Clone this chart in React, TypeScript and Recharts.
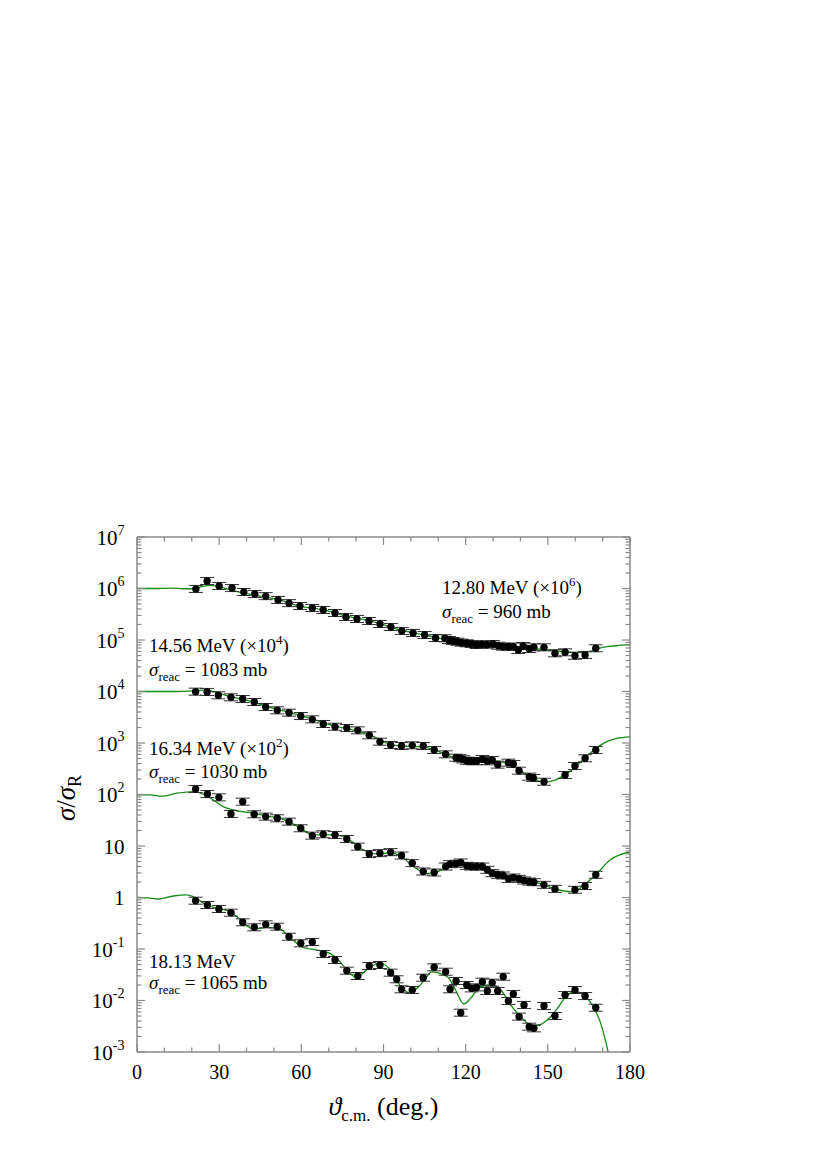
import React from 'react';
import { ComposedChart, Line, Scatter, XAxis, YAxis, ErrorBar } from 'recharts';

// ---- measured data: sigma / sigma_Rutherford vs theta c.m. (unscaled) ----
const ang1280 = [21.5, 25.6, 30.0, 34.7, 39.0, 43.0, 47.0, 51.5, 55.5, 59.5, 64.0, 68.0, 72.3, 76.3, 80.3, 84.7, 88.7, 92.7, 96.7, 100.8, 105.0, 109.0, 112.4, 113.9, 115.3, 117.0, 118.5, 120.4, 122.2, 124.0, 125.8, 127.7, 129.9, 131.9, 133.7, 135.6, 137.4, 139.2, 141.0, 143.2, 144.9, 148.6, 152.6, 156.3, 159.9, 163.6, 167.5];
const val1280 = [0.98, 1.40, 1.12, 1.02, 0.855, 0.78, 0.71, 0.60, 0.52, 0.457, 0.418, 0.383, 0.334, 0.28, 0.256, 0.234, 0.205, 0.179, 0.150, 0.137, 0.125, 0.109, 0.108, 0.100, 0.0955, 0.0927, 0.0887, 0.0863, 0.0836, 0.080, 0.0826, 0.0811, 0.0836, 0.0774, 0.0741, 0.0741, 0.0741, 0.064, 0.0764, 0.0668, 0.0721, 0.072, 0.0552, 0.0577, 0.0495, 0.0512, 0.069];

const ang1456 = [21.4, 25.6, 29.7, 34.3, 38.6, 42.8, 47.0, 51.2, 55.5, 59.8, 64.0, 68.0, 72.3, 76.6, 80.6, 84.8, 88.7, 92.6, 96.6, 100.5, 104.5, 108.5, 112.7, 116.5, 117.9, 119.1, 120.4, 121.6, 122.8, 124.0, 126.1, 127.9, 129.7, 131.7, 135.6, 137.4, 139.5, 143.2, 144.7, 148.6, 156.3, 159.9, 163.6, 167.5];
const val1456 = [0.993, 0.98, 0.843, 0.771, 0.714, 0.625, 0.50, 0.431, 0.388, 0.334, 0.288, 0.234, 0.207, 0.195, 0.176, 0.141, 0.106, 0.0914, 0.0874, 0.0901, 0.0874, 0.0731, 0.0603, 0.0519, 0.0505, 0.0482, 0.0453, 0.0447, 0.0441, 0.0447, 0.0489, 0.0441, 0.0468, 0.038, 0.0415, 0.0391, 0.029, 0.0222, 0.0209, 0.0177, 0.0239, 0.0357, 0.0505, 0.0731];

const ang1634 = [21.4, 25.7, 29.9, 34.3, 38.6, 42.8, 47.0, 51.2, 55.5, 59.8, 64.0, 68.0, 72.3, 76.6, 80.6, 84.8, 88.7, 92.6, 96.6, 100.5, 104.5, 108.5, 112.7, 114.3, 116.5, 118.2, 120.4, 122.0, 124.0, 126.1, 127.9, 129.7, 131.7, 133.7, 135.6, 137.4, 139.5, 141.3, 143.2, 144.9, 148.6, 152.6, 159.9, 163.6, 167.5];
const val1634 = [1.28, 1.02, 0.88, 0.419, 0.726, 0.413, 0.372, 0.345, 0.297, 0.221, 0.159, 0.169, 0.164, 0.137, 0.097, 0.070, 0.0727, 0.076, 0.0653, 0.0465, 0.032, 0.0306, 0.040, 0.0444, 0.0451, 0.0478, 0.0412, 0.040, 0.040, 0.040, 0.0345, 0.0297, 0.0276, 0.0267, 0.023, 0.0244, 0.023, 0.0214, 0.0204, 0.0198, 0.0176, 0.0147, 0.0141, 0.0167, 0.0276];

const ang1813 = [21.4, 25.7, 29.9, 34.3, 38.6, 42.8, 47.0, 51.2, 55.5, 59.8, 64.0, 68.0, 72.3, 76.6, 80.6, 84.8, 88.7, 92.6, 94.8, 96.6, 100.5, 104.5, 108.5, 112.7, 114.3, 116.5, 118.2, 120.4, 122.2, 124.0, 126.1, 127.9, 129.7, 131.7, 133.7, 135.6, 137.4, 139.5, 141.3, 143.2, 144.9, 148.6, 152.6, 156.3, 159.9, 163.6, 167.5];
const val1813 = [0.867, 0.715, 0.598, 0.507, 0.33, 0.264, 0.301, 0.271, 0.173, 0.129, 0.137, 0.080, 0.0611, 0.0379, 0.0299, 0.0468, 0.0489, 0.0347, 0.0258, 0.0165, 0.016, 0.0277, 0.0441, 0.0362, 0.0165, 0.0239, 0.0058, 0.020, 0.0172, 0.018, 0.0232, 0.0153, 0.0222, 0.0153, 0.029, 0.0098, 0.0134, 0.00486, 0.0082, 0.0031, 0.00288, 0.0078, 0.005, 0.0128, 0.016, 0.0122, 0.00724];

// ---- optical model curves (unscaled) ----
const cAng1280 = [0, 6, 12, 17, 21, 24, 27, 30, 35, 42.4, 51, 59.5, 68, 76.7, 87.6, 95, 105, 115, 125, 135, 142, 150, 155, 160, 165, 170, 175, 180];
const cVal1280 = [1.0, 1.0, 1.02, 0.99, 1.0, 1.1, 1.15, 1.08, 0.91, 0.75, 0.62, 0.457, 0.383, 0.29, 0.218, 0.162, 0.125, 0.097, 0.082, 0.075, 0.07, 0.064, 0.06, 0.0566, 0.0595, 0.072, 0.0774, 0.081];

const cAng1456 = [0, 8, 15, 20, 24, 28, 33, 40, 47, 55, 64, 72, 80, 85, 88.7, 92.6, 97.2, 103.3, 108.2, 113.1, 117.9, 124, 130.1, 135, 138.6, 142.3, 145.9, 148.3, 152.6, 158, 165.4, 170.3, 175.1, 180];
const cVal1456 = [1.0, 1.0, 1.0, 1.03, 1.06, 1.0, 0.82, 0.68, 0.52, 0.40, 0.29, 0.215, 0.172, 0.147, 0.114, 0.0944, 0.0875, 0.085, 0.0755, 0.0585, 0.0482, 0.0447, 0.0447, 0.0404, 0.0323, 0.0239, 0.0191, 0.0173, 0.0191, 0.0278, 0.063, 0.0986, 0.123, 0.132];

const cAng1634 = [0, 5, 9, 14.6, 20.6, 24.2, 27.9, 31.5, 35.2, 41.3, 47.3, 53.4, 59.5, 64.4, 71.7, 76.6, 82.6, 87.5, 92.4, 96.6, 100.9, 105.8, 109.4, 114.3, 119.1, 124, 128.9, 133.7, 141, 147.1, 153.2, 159.5, 163.2, 167.5, 172.7, 180];
const cVal1634 = [0.98, 0.98, 0.93, 1.06, 1.14, 1.02, 0.78, 0.58, 0.50, 0.443, 0.383, 0.33, 0.227, 0.164, 0.164, 0.141, 0.0836, 0.070, 0.074, 0.062, 0.040, 0.0295, 0.0316, 0.0408, 0.0447, 0.0398, 0.0316, 0.0253, 0.0218, 0.0187, 0.0143, 0.0129, 0.0175, 0.0276, 0.0535, 0.0765];

const cAng1813 = [0, 4, 7.8, 13.3, 18.1, 21.2, 25.4, 29.7, 34, 37.6, 42.5, 47.3, 52.2, 56.5, 60.7, 65.6, 70.5, 74, 76.6, 80.1, 84, 88.7, 92.6, 96.2, 99.7, 102.3, 105.4, 107.5, 113.3, 116.3, 119.3, 121.8, 125.4, 129.7, 133.4, 136.4, 140.1, 143.7, 146.2, 149.8, 153.5, 157.1, 160.2, 163.2, 166.2, 169.3, 172, 173.5];
const cVal1813 = [1.0, 0.98, 0.935, 1.07, 1.12, 1.0, 0.71, 0.61, 0.53, 0.38, 0.243, 0.262, 0.243, 0.156, 0.107, 0.0955, 0.082, 0.057, 0.039, 0.028, 0.040, 0.054, 0.039, 0.019, 0.0141, 0.0173, 0.027, 0.036, 0.029, 0.016, 0.00855, 0.011, 0.0186, 0.020, 0.0148, 0.0082, 0.00486, 0.00334, 0.00324, 0.00418, 0.00705, 0.0128, 0.0148, 0.0128, 0.0082, 0.0036, 0.00101, 0.0004];

const energies = ['12.80', '14.56', '16.34', '18.13'];
const scaleExp = [6, 4, 2, 0];
const sigmaReac = [960, 1083, 1030, 1065];

const xTicks = [0, 10, 20, 30, 40, 50, 60, 70, 80, 90, 100, 110, 120, 130, 140, 150, 160, 170, 180];
const decades = [-3, -2, -1, 0, 1, 2, 3, 4, 5, 6];
const yTicks: number[] = [];
decades.forEach((n) => {
  for (let k = 1; k <= 9; k++) yTicks.push(k * Math.pow(10, n));
});
yTicks.push(1e7);

const relErr = 0.17;

const makePoints = (a: number[], v: number[], e: number) =>
  a.map((x, i) => {
    const y = v[i] * Math.pow(10, e);
    return { x, y, err: [y - y / (1 + relErr), y * relErr] };
  });
const makeCurve = (a: number[], v: number[], e: number) =>
  a.map((x, i) => ({ x, y: v[i] * Math.pow(10, e) }));

const points = [
  makePoints(ang1280, val1280, scaleExp[0]),
  makePoints(ang1456, val1456, scaleExp[1]),
  makePoints(ang1634, val1634, scaleExp[2]),
  makePoints(ang1813, val1813, scaleExp[3]),
];
const curves = [
  makeCurve(cAng1280, cVal1280, scaleExp[0]),
  makeCurve(cAng1456, cVal1456, scaleExp[1]),
  makeCurve(cAng1634, cVal1634, scaleExp[2]),
  makeCurve(cAng1813, cVal1813, scaleExp[3]),
];

// layout (svg coordinates)
const W = 798;
const H = 1134;
const PL = 129;
const PT = 529;
const PW = 493;
const PH = 515;
const PR = PL + PW;
const PB = PT + PH;
const frame = '#8a8a8a';
const green = '#168a16';
const serif = '"Liberation Serif", "Times New Roman", serif';

const logMajor = (v: number) => {
  const l = Math.log10(v);
  return Math.abs(l - Math.round(l)) < 1e-6;
};

const BottomTick = (props: any) => {
  const { x, payload } = props;
  const v = payload.value;
  const major = v % 30 === 0;
  return (
    <g>
      <line x1={x} x2={x} y1={PB} y2={PB - (major ? 8 : 4.5)} stroke={frame} strokeWidth={1.2} />
      {major && (
        <text x={x} y={PB + 27} textAnchor="middle" fontSize={20} fontFamily={serif} fill="#000">
          {v}
        </text>
      )}
    </g>
  );
};

const TopTick = (props: any) => {
  const { x, payload } = props;
  const major = payload.value % 30 === 0;
  return <line x1={x} x2={x} y1={PT} y2={PT + (major ? 8 : 4.5)} stroke={frame} strokeWidth={1.2} />;
};

const LeftTick = (props: any) => {
  const { y, payload } = props;
  const v = payload.value;
  const major = logMajor(v);
  const n = Math.round(Math.log10(v));
  let label: React.ReactNode = null;
  if (major) {
    if (n === 0 || n === 1) {
      label = (
        <text x={PL - 12.5} y={y + 7.5} textAnchor="end" fontSize={21} fontFamily={serif} fill="#000">
          {n === 0 ? '1' : '10'}
        </text>
      );
    } else {
      label = (
        <text x={PL - 12.5} y={y + 7.5} textAnchor="end" fontSize={21} fontFamily={serif} fill="#000">
          10
          <tspan dy={-10} fontSize={14}>
            {n}
          </tspan>
        </text>
      );
    }
  }
  return (
    <g>
      <line x1={PL} x2={PL + (major ? 8 : 4.5)} y1={y} y2={y} stroke={frame} strokeWidth={1.2} />
      {label}
    </g>
  );
};

const RightTick = (props: any) => {
  const { y, payload } = props;
  const major = logMajor(payload.value);
  return <line x1={PR} x2={PR - (major ? 8 : 4.5)} y1={y} y2={y} stroke={frame} strokeWidth={1.2} />;
};

const Dot = (props: any) => {
  const { cx, cy } = props;
  if (cx == null || cy == null) return <g />;
  return <circle cx={cx} cy={cy} r={3.7} fill="#000" />;
};

// annotation positions
const annoX = [434, 141, 141, 141];
const annoY1 = [586, 644, 747, 960];
const annoY2 = [610, 668, 770, 981];

export default function App() {
  return (
    <div style={{ position: 'relative', width: W, height: H }}>
      <ComposedChart
        width={W}
        height={H}
        margin={{ top: PT - 1, left: PL - 1, right: W - PR - 1, bottom: H - PB - 1 }}
      >
        <XAxis
          xAxisId="b"
          dataKey="x"
          type="number"
          domain={[0, 180]}
          ticks={xTicks}
          interval={0}
          height={1}
          tickSize={0}
          tickMargin={0}
          tickLine={false}
          tick={<BottomTick />}
          axisLine={{ stroke: frame, strokeWidth: 1.5 }}
          allowDataOverflow
        />
        <XAxis
          xAxisId="t"
          orientation="top"
          dataKey="x"
          type="number"
          domain={[0, 180]}
          ticks={xTicks}
          interval={0}
          height={1}
          tickSize={0}
          tickMargin={0}
          tickLine={false}
          tick={<TopTick />}
          axisLine={{ stroke: frame, strokeWidth: 1.5 }}
          allowDataOverflow
        />
        <YAxis
          yAxisId="l"
          dataKey="y"
          scale="log"
          type="number"
          domain={[1e-3, 1e7]}
          ticks={yTicks}
          interval={0}
          width={1}
          tickSize={0}
          tickMargin={0}
          tickLine={false}
          tick={<LeftTick />}
          axisLine={{ stroke: frame, strokeWidth: 1.5 }}
          allowDataOverflow
        />
        <YAxis
          yAxisId="r"
          orientation="right"
          dataKey="y"
          scale="log"
          type="number"
          domain={[1e-3, 1e7]}
          ticks={yTicks}
          interval={0}
          width={1}
          tickSize={0}
          tickMargin={0}
          tickLine={false}
          tick={<RightTick />}
          axisLine={{ stroke: frame, strokeWidth: 1.5 }}
          allowDataOverflow
        />
        {curves.map((c, i) => (
          <Line
            key={'c' + i}
            data={c}
            dataKey="y"
            xAxisId="b"
            yAxisId="l"
            type="monotone"
            stroke={green}
            strokeWidth={1.3}
            dot={false}
            activeDot={false}
            isAnimationActive={false}
          />
        ))}
        {points.map((p, i) => (
          <Scatter
            key={'p' + i}
            data={p}
            dataKey="y"
            xAxisId="b"
            yAxisId="l"
            shape={<Dot />}
            isAnimationActive={false}
          >
            <ErrorBar dataKey="err" direction="y" width={7} stroke="#333" strokeWidth={1} />
          </Scatter>
        ))}
      </ComposedChart>
      <svg
        width={W}
        height={H}
        style={{ position: 'absolute', left: 0, top: 0, pointerEvents: 'none' }}
        fontFamily={serif}
      >
        {energies.map((e, i) => (
          <g key={e}>
            <text x={annoX[i]} y={annoY1[i]} fontSize={19} fill="#000">
              {e} MeV
              {scaleExp[i] > 0 && (
                <>
                  {' (×10'}
                  <tspan dy={-8} fontSize={13}>
                    {scaleExp[i]}
                  </tspan>
                  <tspan dy={8}>)</tspan>
                </>
              )}
            </text>
            <text x={annoX[i]} y={annoY2[i]} fontSize={19} fill="#000">
              <tspan fontStyle="italic">σ</tspan>
              <tspan dy={5} fontSize={13}>
                reac
              </tspan>
              <tspan dy={-5}>{' = ' + sigmaReac[i] + ' mb'}</tspan>
            </text>
          </g>
        ))}
        <text x={PL + PW / 2} y={1107} textAnchor="middle" fontSize={26} fill="#000">
          <tspan fontStyle="italic">ϑ</tspan>
          <tspan dy={6} fontSize={17}>
            c.m.
          </tspan>
          <tspan dy={-6}> (deg.)</tspan>
        </text>
        <text
          x={67}
          y={790}
          textAnchor="middle"
          fontSize={27}
          fill="#000"
          transform="rotate(-90 67 790)"
        >
          <tspan fontStyle="italic">σ</tspan>/<tspan fontStyle="italic">σ</tspan>
          <tspan dy={6} fontSize={18}>
            R
          </tspan>
        </text>
      </svg>
    </div>
  );
}
